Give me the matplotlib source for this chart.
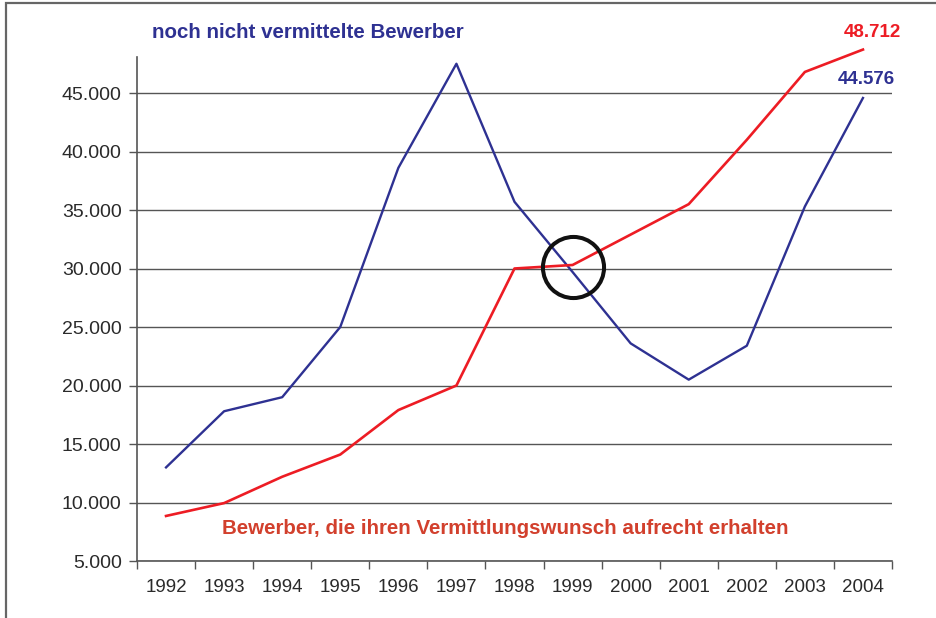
import matplotlib
matplotlib.use("Agg")
import matplotlib.pyplot as plt
from matplotlib.patches import Rectangle
from matplotlib.ticker import FuncFormatter

# --- data ---
years = ["1992", "1993", "1994", "1995", "1996", "1997", "1998",
         "1999", "2000", "2001", "2002", "2003", "2004"]
nicht_vermittelt = [13000, 17800, 19000, 25000, 38600, 47500, 35700,
                    29700, 23600, 20500, 23400, 35300, 44576]
aufrecht = [8850, 9950, 12200, 14100, 17900, 20000, 30000,
            30300, 32900, 35500, 41000, 46800, 48712]
y_ticks = [5000, 10000, 15000, 20000, 25000, 30000, 35000, 40000, 45000]
circle_year = "1999"
circle_value = 30130

BLUE = "#2e3192"
RED = "#ed1c24"
RED_TEXT = "#d2402d"
GRAY = "#555555"
TEXT = "#2a2a2a"

plt.rcParams["font.family"] = ["Liberation Sans", "DejaVu Sans"]

fig = plt.figure(figsize=(9.37, 6.18), dpi=100)
ax = fig.add_axes([137 / 937, 1 - 561 / 618, (892 - 137) / 937, (561 - 57) / 618])

x = list(range(len(years)))
ax.plot(x, nicht_vermittelt, color=BLUE, lw=1.7, clip_on=False, zorder=3)
ax.plot(x, aufrecht, color=RED, lw=1.9, clip_on=False, zorder=3)

# highlighted crossing
ax.plot([years.index(circle_year)], [circle_value], marker="o", ms=44,
        mfc="none", mec="#111111", mew=2.9, clip_on=False, zorder=4)

ax.set_xlim(-0.5, len(years) - 0.5)
ax.set_ylim(5000, 48077)

ax.set_yticks(y_ticks)
ax.yaxis.set_major_formatter(FuncFormatter(lambda v, _: f"{int(v):,}".replace(",", ".")))
ax.grid(axis="y", color=GRAY, lw=1.0)
ax.set_axisbelow(True)

ax.set_xticks([i + 0.5 for i in range(-1, len(years))])
ax.set_xticklabels([])
ax.set_xticks(x, minor=True)
ax.set_xticklabels(years, minor=True)
ax.tick_params(axis="x", which="major", length=6, width=1, color=GRAY, direction="out")
ax.tick_params(axis="x", which="minor", length=0, pad=13, labelsize=13.5, labelcolor=TEXT)
ax.tick_params(axis="y", length=6, width=1, color=GRAY, pad=5, labelsize=14, labelcolor=TEXT)

for side in ("top", "right"):
    ax.spines[side].set_visible(False)
for side in ("left", "bottom"):
    ax.spines[side].set_color(GRAY)
    ax.spines[side].set_linewidth(1.2)

ax.text(-0.24, 50150, "noch nicht vermittelte Bewerber", color=BLUE,
        fontsize=14.8, fontweight="bold", va="center", ha="left", clip_on=False)
ax.text(0.97, 7750, "Bewerber, die ihren Vermittlungswunsch aufrecht erhalten",
        color=RED_TEXT, fontsize=14.8, fontweight="bold", va="center", ha="left")
ax.text(12.16, 50200, f"{aufrecht[-1]:,}".replace(",", "."), color=RED,
        fontsize=13.5, fontweight="bold", va="center", ha="center", clip_on=False)
ax.text(12.06, 46150, f"{nicht_vermittelt[-1]:,}".replace(",", "."), color=BLUE,
        fontsize=13.5, fontweight="bold", va="center", ha="center", clip_on=False)

# page frame (top and left edges visible)
fig.add_artist(Rectangle((6 / 937, -0.05), 1.0, 1.05 - 3 / 618, fill=False,
                         edgecolor="#666666", lw=1.6, transform=fig.transFigure))

fig.savefig("out.png", dpi=100)
